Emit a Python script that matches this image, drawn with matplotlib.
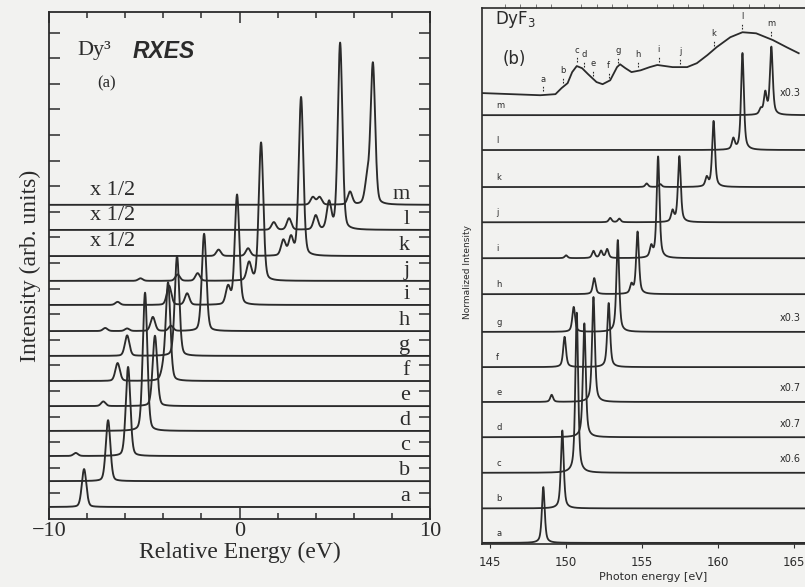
import matplotlib.pyplot as plt
import numpy as np

# ---------------- panel (a): Dy3+ RXES vs relative energy ----------------
rxes_labels = list('abcdefghijklm')
rxes_baseline = [0.47, 1.48, 2.46, 3.44, 4.41, 5.39, 6.37, 7.34, 8.36, 9.30, 10.27, 11.29, 12.27]
# (energy eV, height) of every feature in each spectrum, a .. m
rxes_peaks = [
    [(-8.16, 1.48)],
    [(-6.90, 2.38)],
    [(-8.60, 0.12), (-5.85, 3.48)],
    [(-4.96, 5.40)],
    [(-7.15, 0.18), (-4.44, 2.75)],
    [(-6.40, 0.70), (-4.00, 0.40), (-3.75, 3.80)],
    [(-5.90, 0.80), (-3.28, 3.90)],
    [(-7.05, 0.12), (-5.90, 0.10), (-4.55, 0.55), (-3.60, 0.20), (-1.86, 3.80)],
    [(-6.40, 0.12), (-3.70, 0.75), (-2.75, 0.45), (-0.60, 0.70), (-0.13, 4.30)],
    [(-5.20, 0.10), (-3.25, 0.25), (-2.20, 0.30), (0.50, 0.70), (1.13, 5.40)],
    [(-1.10, 0.25), (0.45, 0.30), (2.30, 0.60), (2.70, 0.70), (3.23, 6.20)],
    [(1.80, 0.30), (2.60, 0.45), (4.00, 0.55), (4.70, 1.05), (5.28, 7.30)],
    [(3.85, 0.30), (4.20, 0.30), (5.80, 0.50), (6.70, 0.90), (7.00, 5.50)],
]
rxes_halved = ['k', 'l', 'm']

# ---------------- panel (b): DyF3 spectra vs photon energy ----------------
dyf3_labels = list('abcdefghijklm')
dyf3_baseline = [0.03, 1.00, 2.00, 3.00, 3.99, 4.97, 5.96, 7.02, 8.03, 9.04, 10.03, 11.07, 12.05]
dyf3_peaks = [
    [(148.50, 1.57)],
    [(149.75, 2.19)],
    [(150.70, 4.50)],
    [(151.20, 3.20)],
    [(149.05, 0.20), (151.80, 2.95)],
    [(149.90, 0.85), (152.80, 1.80)],
    [(150.50, 0.70), (153.40, 2.58)],
    [(151.85, 0.45), (154.30, 0.25), (154.70, 1.75)],
    [(150.00, 0.08), (151.80, 0.20), (152.30, 0.20), (152.70, 0.25), (155.60, 0.30), (156.05, 2.85)],
    [(152.90, 0.12), (153.50, 0.10), (157.00, 0.30), (157.45, 1.85)],
    [(155.30, 0.10), (156.20, 0.08), (159.25, 0.25), (159.70, 1.85)],
    [(161.00, 0.30), (161.60, 2.72)],
    [(162.80, 0.15), (163.10, 0.60), (163.50, 1.90)],
]
dyf3_scale = {'c': 'x0.6', 'd': 'x0.7', 'e': 'x0.7', 'g': 'x0.3', 'm': 'x0.3'}
excitation_energy = [148.5, 149.8, 150.7, 151.2, 151.8, 152.8, 153.4, 154.7,
                     156.1, 157.5, 159.7, 161.6, 163.5]

# absorption spectrum drawn above the emission spectra
abs_energy = [144.5, 148.3, 149.3, 149.7, 150.1, 150.4, 150.7, 151.05, 151.45, 152.0,
              152.4, 152.9, 153.35, 153.55, 153.9, 154.3, 154.9, 155.5, 156.0, 157.0,
              157.96, 158.6, 159.3, 159.9, 160.8, 161.6, 162.5, 163.6, 164.5, 165.3]
abs_signal = [12.67, 12.61, 12.64, 12.81, 12.95, 13.26, 13.43, 13.37, 13.20, 12.98,
              12.92, 13.03, 13.40, 13.48, 13.37, 13.26, 13.31, 13.40, 13.46, 13.40,
              13.40, 13.51, 13.74, 13.96, 14.24, 14.38, 14.35, 14.16, 13.96, 13.79]

INK = '#2b2b2b'
PAPER = '#f2f2f0'


def spectrum(x, peaks, fwhm, eta):
    y = np.zeros_like(x)
    for x0, h in peaks:
        g = np.exp(-4 * np.log(2) * ((x - x0) / fwhm) ** 2)
        lor = 1.0 / (1.0 + 4 * ((x - x0) / fwhm) ** 2)
        y += h * ((1 - eta) * g + eta * lor)
    return y


fig = plt.figure(figsize=(8.05, 5.87), dpi=100, facecolor=PAPER)

# ---- (a) ----
ax = fig.add_axes([0.0609, 0.1158, 0.4733, 0.8637])
ax.set_facecolor(PAPER)
xa = np.linspace(-10, 10, 4000)
for lab, base, peaks in zip(rxes_labels, rxes_baseline, rxes_peaks):
    ax.plot(xa, base + spectrum(xa, peaks, 0.28, 0.25), color=INK, lw=1.35)
    ax.text(8.95, base + 0.42, lab, ha='right', va='center',
            family='Liberation Serif', fontsize=16, color=INK)
    if lab in rxes_halved:
        ax.text(-6.65, base + 0.55, 'x 1/2', ha='center', va='center',
                family='Liberation Serif', fontsize=16, color=INK)

ax.set_xlim(-10, 10)
ax.set_ylim(0, 19.8)
ax.set_xticks([-10, 0, 10])
ax.set_xticklabels(['\u221210', '0', '10'], family='Liberation Serif', fontsize=16, color=INK)
ax.set_xticks(np.arange(-8, 10, 2), minor=True)
ax.set_yticks(np.arange(1, 20, 1))
ax.set_yticklabels([])
ax.tick_params(which='both', direction='in', top=True, right=True, color=INK, width=1.1)
ax.tick_params(which='major', length=8, pad=2)
ax.tick_params(which='minor', length=4)
ax.tick_params(axis='y', length=8)
for s in ax.spines.values():
    s.set_color(INK)
    s.set_linewidth(1.3)
ax.set_xlabel('Relative Energy (eV)', family='Liberation Serif', fontsize=17, color=INK, labelpad=1)
ax.set_ylabel('Intensity (arb. units)', family='Liberation Serif', fontsize=17, color=INK, labelpad=4)
ax.text(-8.5, 18.3, 'Dy\u00b3', family='Liberation Serif', fontsize=16, color=INK, va='center')
ax.text(-5.6, 18.25, 'RXES', family='Liberation Sans', fontsize=16.5, weight='bold',
        style='italic', color=INK, va='center')
ax.text(-7.0, 17.0, '(a)', family='Liberation Serif', fontsize=12, color=INK, ha='center', va='center')

# ---- (b) ----
bx = fig.add_axes([0.5988, 0.0733, 0.4255, 0.913])
bx.set_facecolor(PAPER)
xb = np.linspace(144.47, 167, 6000)
for lab, base, peaks in zip(dyf3_labels, dyf3_baseline, dyf3_peaks):
    bx.plot(xb, base + spectrum(xb, peaks, 0.22, 0.6), color=INK, lw=1.3)
    bx.text(145.4, base + 0.27, lab, fontsize=6, color=INK, va='center')
    if lab in dyf3_scale:
        dy = 0.62 if lab == 'm' else 0.38
        bx.text(164.05, base + dy, dyf3_scale[lab], fontsize=7, color=INK, va='center')

bx.plot(abs_energy, abs_signal, color=INK, lw=1.3)
for lab, e in zip(dyf3_labels, excitation_energy):
    yc = np.interp(e, abs_energy, abs_signal)
    bx.plot([e, e], [yc + 0.1, yc + 0.26], color=INK, lw=0.8, ls=(0, (1.5, 1.2)))
    bx.text(e, yc + 0.45, lab, fontsize=6, color=INK, ha='center', va='center')

bx.set_xlim(144.47, 167)
bx.set_ylim(0, 15.06)
bx.set_xticks([145, 150, 155, 160, 165])
bx.set_xticklabels(['145', '150', '155', '160', '165'], fontsize=8.5, color=INK)
bx.set_xticks(np.arange(145, 167, 1), minor=True)
bx.set_yticks([])
bx.tick_params(axis='x', which='major', direction='out', length=3, width=0.8, color=INK, pad=6)
bx.tick_params(axis='x', which='minor', top=True, bottom=False, direction='out',
               length=3, width=0.7, color='#777777')
bx.spines['right'].set_visible(False)
for s in ('left', 'top', 'bottom'):
    bx.spines[s].set_color(INK)
    bx.spines[s].set_linewidth(1.2)
bx.set_xlabel('Photon energy [eV]', fontsize=8, color=INK, labelpad=2)
bx.text(145.33, 14.75, 'DyF$_3$', fontsize=12, color=INK, va='center')
bx.text(145.8, 13.62, '(b)', fontsize=12, color=INK, va='center')
fig.text(0.581, 0.537, 'Normalized Intensity', rotation=90, fontsize=6.5,
         color=INK, ha='center', va='center')

fig.savefig('out.png', dpi=100, facecolor=PAPER)
